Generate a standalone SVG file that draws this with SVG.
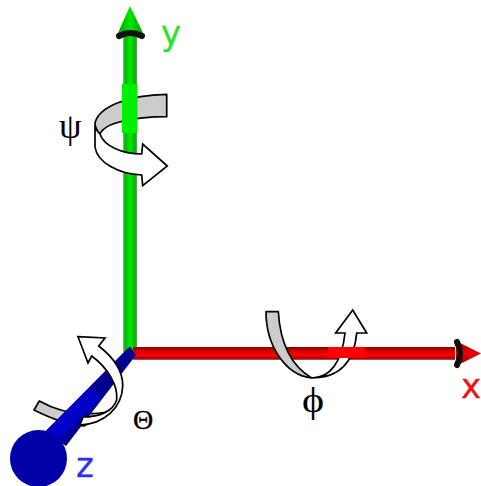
<svg xmlns="http://www.w3.org/2000/svg" width="481" height="486" viewBox="0 0 481 486">
<defs>
<linearGradient id="gy" x1="0" x2="1" y1="0" y2="0"><stop offset="0" stop-color="#8fbf8f"/><stop offset="0.14" stop-color="#00b400"/><stop offset="0.5" stop-color="#00ea00"/><stop offset="0.86" stop-color="#00b400"/><stop offset="1" stop-color="#6f9f6f"/></linearGradient>
<linearGradient id="gh" x1="0" x2="1" y1="0" y2="0"><stop offset="0" stop-color="#00a000"/><stop offset="0.5" stop-color="#00e800"/><stop offset="1" stop-color="#009000"/></linearGradient>
<linearGradient id="gx" x1="0" x2="0" y1="0" y2="1"><stop offset="0" stop-color="#800000"/><stop offset="0.25" stop-color="#c80000"/><stop offset="0.6" stop-color="#ff0000"/><stop offset="0.9" stop-color="#b00000"/><stop offset="1" stop-color="#a08080"/></linearGradient>
<linearGradient id="gxh" x1="0" x2="0" y1="0" y2="1"><stop offset="0" stop-color="#900000"/><stop offset="0.5" stop-color="#f00000"/><stop offset="1" stop-color="#900000"/></linearGradient>
<style>
.gray{fill:#cccccc;stroke:#000;stroke-width:1.7;stroke-linejoin:round}
.white{fill:#fff;stroke:#000;stroke-width:1.7;stroke-linejoin:miter}
.lbl{font-family:"DejaVu Sans",sans-serif;font-size:34px;stroke-width:0.3}
.gr{font-family:"Liberation Serif","DejaVu Serif",serif;fill:#000}
</style>
</defs>
<g id="ribbon-back">
<path class="gray" d="M166.700 94.300V116.700C135 117 105 122 100 134C96 130 95 127 95 123C99 106 130 95 166.700 94.300Z"/>
<path class="gray" d="M39.300 401L34 410C50 418 70 425 84 426L108 412C85 416 62 414 39.300 401Z"/>
</g>
<g id="axes">
<rect id="axis-y" x="123" y="36" width="14" height="316" fill="url(#gy)"/>
<g id="axis-y-head">
<polygon points="130,6 144,35 117,35" fill="url(#gh)"/>
<path d="M119 36Q130 30 142 36" fill="none" stroke="#101010" stroke-width="6" stroke-linecap="round"/>
</g>
<rect id="axis-x" x="133" y="347" width="322" height="13" fill="url(#gx)"/>
<g id="axis-x-head">
<polygon points="456,341 481,353.500 456,366" fill="url(#gxh)"/>
<path d="M457 342Q463 353.500 457 365" fill="none" stroke="#101010" stroke-width="6" stroke-linecap="round"/>
</g>
<polygon id="axis-z" points="127,349 130,346.500 136,355 66,446 45,431.700" fill="#000090"/>
<polygon points="90,388.300 101.700,398.300 60,439 45,431.700" fill="#0000c8"/>
<circle id="axis-z-head" cx="38.500" cy="458.500" r="28.500" fill="#0000a8"/>
</g>
<g id="ribbon-phi">
<path class="gray" d="M266 311.700H278.300C280 340 290 365 311.700 378C285 375 266 345 266 311.700Z"/>
<path class="white" d="M311.700 378C330 378 342 362 345 333H335.700L352.700 310L366.700 333H356.700C354 362 340 378 311.700 378Z"/>
</g>
<g id="ribbon-theta">
<path class="white" d="M78 336.700L105 338L98.700 346C113 357 123 370 122.700 386C122 408 104 424 80 425L83 417C100 417 113 411 116.700 400C118 385 108 368 91.700 356L88 363Z"/>
</g>
<g id="ribbon-psi">
<path class="white" d="M95 125V147C97 162 118 174 141.700 175L142.700 185.700L167.300 166L142.700 144L141.700 154C122 154 104 146 100 134C97 131 95 128 95 125Z"/>
</g>
<g id="highlights">
<rect x="122" y="84" width="15.500" height="49" fill="#00ee00"/>
<rect x="328" y="347" width="37" height="11" fill="#ff0000"/>
</g>
<g id="labels">
<text class="lbl" x="161" y="45" fill="#30e030" stroke="#30e030">y</text>
<text class="lbl" x="461" y="398" fill="#f01010" stroke="#f01010">x</text>
<text class="lbl" x="76" y="477" fill="#3030f0" stroke="#3030f0">z</text>
<text class="gr" x="59" y="138" font-size="36">ψ</text>
<text class="gr" x="133" y="429" font-size="28" stroke="#000" stroke-width="0.3">Θ</text>
<text class="gr" transform="translate(302 412) scale(1.2 1)" font-size="35">ϕ</text>
</g>
</svg>
